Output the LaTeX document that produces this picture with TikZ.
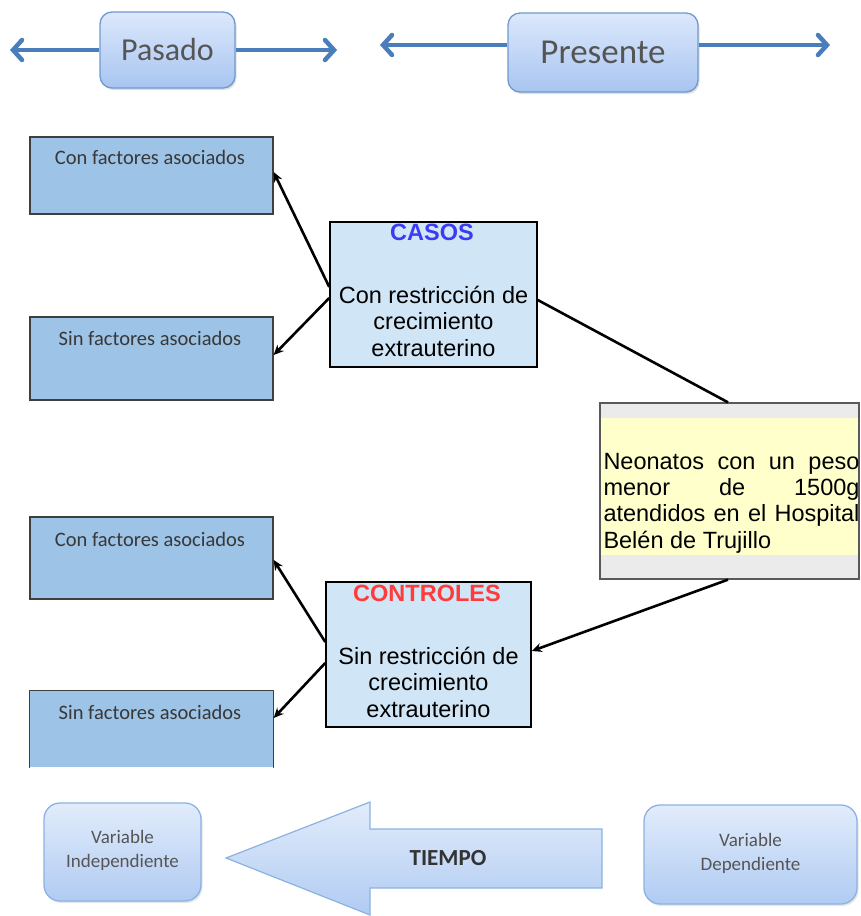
\documentclass[tikz,border=0pt]{standalone}
\usepackage{fontspec}
\setmainfont{Liberation Sans}
\newfontfamily\calfont{Carlito}
\usetikzlibrary{arrows.meta,shadows,calc}
\definecolor{tbBorder}{HTML}{6F9AD0}
\definecolor{tbTop}{HTML}{DCE8FC}
\definecolor{tbBot}{HTML}{A8C5F0}
\definecolor{arBlue}{HTML}{4A7EBB}
\definecolor{lbFill}{HTML}{9DC3E6}
\definecolor{lbBorder}{HTML}{3F3F3F}
\definecolor{midFill}{HTML}{D0E5F5}
\definecolor{neoGray}{HTML}{EBEBEB}
\definecolor{neoYellow}{HTML}{FFFFCC}
\definecolor{casosBlue}{HTML}{3B3BF5}
\definecolor{ctrlRed}{HTML}{FF3B3B}
\definecolor{txtGray}{HTML}{555555}
\definecolor{bbBorder}{HTML}{8CB2E2}
\definecolor{bbTop}{HTML}{E2ECFB}
\definecolor{bbBot}{HTML}{B0CBF2}
\begin{document}
\begin{tikzpicture}[x=1pt,y=-1pt,
  topbox/.style={draw=tbBorder, line width=1.3pt, rounded corners=12pt, top color=tbTop, bottom color=tbBot, inner sep=0pt,
    drop shadow={opacity=0.25, shadow xshift=1.5pt, shadow yshift=-2pt}},
  toptext/.style={font=\calfont, text=txtGray},
  bluearrow/.style={draw=arBlue, line width=3.5pt, -{Straight Barb[length=9pt,width=20pt,line width=4.5pt,line cap=round]}},
  lbox/.style={line width=1.3pt, fill=lbFill, minimum width=243pt, inner sep=0pt},
  ltext/.style={font=\calfont\fontsize{20.5}{24}\selectfont, text=black!78},
  midbox/.style={draw=black, line width=1.5pt, fill=midFill, inner sep=0pt},
  midtext/.style={font=\fontsize{23.5}{26.5}\selectfont, align=center, inner sep=0pt},
  conn/.style={draw=black, line width=2.6pt, -{Stealth[length=10pt,width=9pt]}},
  plainconn/.style={draw=black, line width=2.6pt},
  botbox/.style={draw=bbBorder, line width=1.3pt, rounded corners=16pt, top color=bbTop, bottom color=bbBot, inner sep=0pt,
    drop shadow={opacity=0.2, shadow xshift=1.5pt, shadow yshift=-2pt}},
  bottext/.style={font=\calfont\fontsize{19}{24}\selectfont, text=txtGray, align=center}
]
\useasboundingbox (0,0) rectangle (860,916);

% ---- top timeline ----
\node[topbox, minimum width=135pt, minimum height=76pt] (pasado) at (167.5,50) {};
\node[toptext, font=\calfont\fontsize{32}{36}\selectfont] (pasadoT) at (167.5,50) {Pasado};
\coordinate (pl) at (10,50);
\coordinate (pr) at (337,50);
\draw[bluearrow] (pasado.west |- 0,50) -- (pl);
\draw[bluearrow] (pasado.east |- 0,50) -- (pr);

\node[topbox, minimum width=190pt, minimum height=79pt] (presente) at (603,52.5) {};
\node[toptext, font=\calfont\fontsize{35}{38}\selectfont] (presenteT) at (603,52.5) {Presente};
\coordinate (ql) at (380,45);
\coordinate (qr) at (830,45);
\draw[bluearrow] (presente.west |- 0,45) -- (ql);
\draw[bluearrow] (presente.east |- 0,45) -- (qr);

% ---- left boxes ----
\node[lbox, draw=lbBorder, minimum height=77pt] (box1) at (151.5,175.5) {};
\node[ltext] (t1) at (150,157) {Con factores asociados};
\node[lbox, draw=lbBorder, minimum height=83pt] (box2) at (151.5,358.5) {};
\node[ltext] (t2) at (150,338) {Sin factores asociados};
\node[lbox, draw=lbBorder, minimum height=82pt] (box3) at (151.5,558) {};
\node[ltext] (t3) at (150,539) {Con factores asociados};
\node[lbox, minimum height=76pt] (box4) at (151.5,729) {};
\draw[lbBorder, line width=1.3pt] (box4.south west) -- (box4.north west) -- (box4.north east) -- (box4.south east);
\node[ltext] (t4) at (150,712) {Sin factores asociados};

% ---- CASOS ----
\node[midbox, minimum width=207pt, minimum height=145pt] (casos) at (433.5,294.5) {};
\node[midtext, font=\bfseries\fontsize{23.5}{26.5}\selectfont, text=casosBlue] (casosT) at (432,232) {CASOS};
\node[midtext] (casosD) at (433.5,321) {Con restricción de\\crecimiento\\extrauterino};

% ---- CONTROLES ----
\node[midbox, minimum width=205pt, minimum height=145pt] (controles) at (428.5,654.5) {};
\node[midtext, font=\bfseries\fontsize{23.5}{26.5}\selectfont, text=ctrlRed] (controlesT) at (427,593) {CONTROLES};
\node[midtext] (controlesD) at (428.5,682) {Sin restricción de\\crecimiento\\extrauterino};

% ---- Neonatos ----
\node[draw=black!65, line width=1.3pt, fill=neoGray, minimum width=259pt, minimum height=176pt, inner sep=0pt] (neo) at (729.5,491) {};
\node[fill=neoYellow, minimum width=257pt, minimum height=137pt, inner sep=0pt] (band) at (729.5,486.5) {};
\node[text width=256pt, align=justify, inner sep=0pt, font=\fontsize{23.5}{26.3}\selectfont] (neoT) at (731.5,503)
  {Neonatos con un peso\linebreak menor de 1500g\linebreak atendidos en el Hospital\linebreak Belén de Trujillo};

% ---- connectors ----
\draw[conn] (casos.west |- 0,287) -- (box1.east |- 0,172);
\draw[conn] (casos.west |- 0,298) -- (box2.east |- 0,355);
\draw[plainconn] (casos.east |- 0,300) -- (neo.north -| 728,0);
\draw[conn] (neo.south -| 728,0) -- (controles.east |- 0,651);
\draw[conn] (controles.west |- 0,642) -- (box3.east |- 0,560);
\draw[conn] (controles.west |- 0,663) -- (box4.east |- 0,718);

% ---- bottom ----
\node[botbox, minimum width=157pt, minimum height=98pt] (varind) at (122.5,852) {};
\node[bottext] (varindT) at (122.5,850) {Variable\\Independiente};
\node[botbox, minimum width=213pt, minimum height=99pt] (vardep) at (750.5,854.5) {};
\node[bottext] (vardepT) at (750.5,853) {Variable\\Dependiente};

\path[draw=bbBorder, line width=1.2pt, top color=bbTop, bottom color=bbBot]
  (226,858) -- (370,802) -- (370,829) -- (602,829) -- (602,888) -- (370,888) -- (370,915) -- cycle;
\node[font=\calfont\bfseries\fontsize{23}{26}\selectfont, text=black!80] (tiempo) at (448,858) {TIEMPO};
\end{tikzpicture}
\end{document}
